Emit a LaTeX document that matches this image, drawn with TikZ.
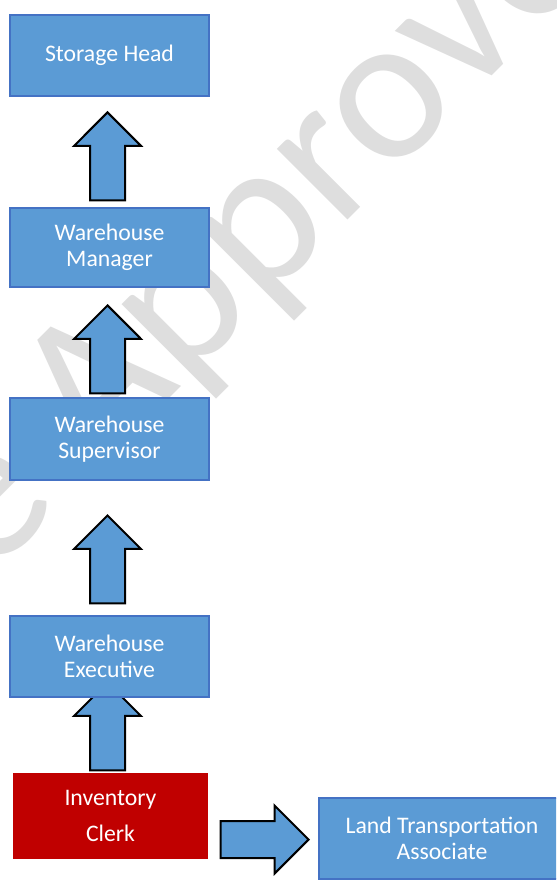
\documentclass[tikz,border=0pt]{standalone}
\usepackage{fontspec}
\setmainfont{Carlito}
\usepackage{xcolor}
\usepackage{tikz}
\usetikzlibrary{shapes,arrows,positioning}

\definecolor{boxblue}{HTML}{5B9BD5}
\definecolor{boxline}{HTML}{4472C4}
\definecolor{clerkred}{HTML}{C00000}
\definecolor{markgray}{HTML}{DEDEDE}

% one pixel of the page
\newcommand{\pxu}{0.75pt}

\tikzset{
  rolebox/.style={draw=boxline, line width=1.5pt, fill=boxblue, text=white,
    minimum width=199*\pxu, minimum height=81*\pxu, align=center,
    font=\fontsize{17.8}{19.2}\selectfont, inner sep=0pt},
  upblock/.style={single arrow, draw=black, line width=1.5pt, fill=boxblue,
    shape border rotate=90, single arrow head extend=16*\pxu,
    minimum height=88*\pxu, inner sep=16.5*\pxu, anchor=tip},
  rightblock/.style={upblock, shape border rotate=0, single arrow head extend=15.5*\pxu,
    inner sep=17.5*\pxu}
}

\begin{document}
\begin{tikzpicture}[x=\pxu, y=-\pxu]
  \useasboundingbox (0,0) rectangle (556,880);
  \clip (0,0) rectangle (556,880);

  % watermark behind everything
  \node[text=markgray, rotate=45, anchor=base east, inner sep=0pt,
    font=\fontsize{157}{157}\selectfont] (mark) at (604,-36) {e Approve};

  % block arrows, placed by their tips
  \node[upblock] (up1) at (107.5,111) {};
  \node[upblock] (up2) at (107.5,304) {};
  \node[upblock] (up3) at (107.5,514) {};
  \node[upblock] (up4) at (107.5,681) {};
  \node[rightblock] (toland) at (310,839.5) {};

  % roles
  \node[rolebox] (head) at (109.5,55.5) {Storage Head};
  \node[rolebox, minimum height=79*\pxu] (manager) at (109.5,247.5) {Warehouse\\Manager};
  \node[rolebox, minimum height=82*\pxu] (supervisor) at (109.5,439) {Warehouse\\Supervisor};
  \node[rolebox] (executive) at (109.5,656.5) {Warehouse\\Executive};
  \node[rolebox, draw=clerkred, fill=clerkred, minimum width=193*\pxu, minimum height=84*\pxu,
    font=\fontsize{17.8}{27}\selectfont] (clerk) at (110.5,816) {Inventory\\Clerk};
  \node[rolebox, minimum width=246*\pxu] (land) at (442,838.5) {Land Transportation\\Associate};
\end{tikzpicture}
\end{document}
